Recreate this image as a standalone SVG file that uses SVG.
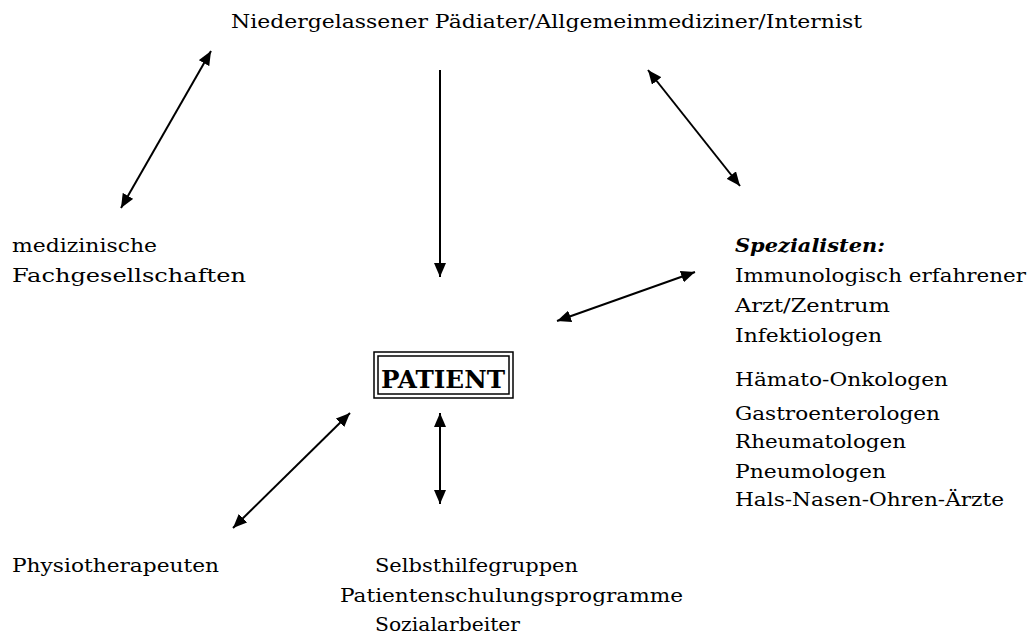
<svg xmlns="http://www.w3.org/2000/svg" width="1033" height="635" viewBox="0 0 1033 635">
<style>
text{font-family:"DejaVu Serif","Liberation Serif",serif;font-size:19px;fill:#000}
.bi{font-weight:bold;font-style:italic}
.p{font-weight:bold;font-size:24px}
.c{stroke:#000;stroke-width:2;fill:none}
</style>
<defs>
<marker id="ah" viewBox="0 0 14 12" refX="14" refY="6" markerWidth="14" markerHeight="12" markerUnits="userSpaceOnUse" orient="auto-start-reverse">
<path d="M0,0 L14,6 L0,12 z" fill="#000"/>
</marker>
</defs>
<rect width="1033" height="635" fill="#fff"/>
<g id="connectors">
<line class="c" x1="121" y1="208" x2="211" y2="51" marker-start="url(#ah)" marker-end="url(#ah)"/>
<line class="c" x1="440" y1="70" x2="440" y2="277" marker-end="url(#ah)"/>
<line class="c" x1="648" y1="70" x2="740" y2="186" marker-start="url(#ah)" marker-end="url(#ah)"/>
<line class="c" x1="557" y1="321" x2="695" y2="272" marker-start="url(#ah)" marker-end="url(#ah)"/>
<line class="c" x1="233" y1="528" x2="350" y2="413" marker-start="url(#ah)" marker-end="url(#ah)"/>
<line class="c" x1="440" y1="413" x2="440" y2="504" marker-start="url(#ah)" marker-end="url(#ah)"/>
</g>
<g id="node-arzt">
<text x="231" y="28" textLength="631" lengthAdjust="spacingAndGlyphs">Niedergelassener Pädiater/Allgemeinmediziner/Internist</text>
</g>
<g id="node-fachgesellschaften">
<text x="12" y="252" textLength="145" lengthAdjust="spacingAndGlyphs">medizinische</text>
<text x="12" y="282" textLength="234" lengthAdjust="spacingAndGlyphs">Fachgesellschaften</text>
</g>
<g id="node-patient">
<rect x="374" y="352" width="139" height="46" fill="none" stroke="#000" stroke-width="1.5"/>
<rect x="378" y="356" width="131" height="38" fill="none" stroke="#000" stroke-width="1.5"/>
<text class="p" x="381" y="388" textLength="124" lengthAdjust="spacingAndGlyphs">PATIENT</text>
</g>
<g id="node-spezialisten">
<text class="bi" x="735" y="252" textLength="150" lengthAdjust="spacingAndGlyphs">Spezialisten:</text>
<text x="735" y="282" textLength="291" lengthAdjust="spacingAndGlyphs">Immunologisch erfahrener</text>
<text x="735" y="312" textLength="155" lengthAdjust="spacingAndGlyphs">Arzt/Zentrum</text>
<text x="735" y="342" textLength="147" lengthAdjust="spacingAndGlyphs">Infektiologen</text>
<text x="735" y="386" textLength="213" lengthAdjust="spacingAndGlyphs">Hämato-Onkologen</text>
<text x="735" y="420" textLength="205" lengthAdjust="spacingAndGlyphs">Gastroenterologen</text>
<text x="735" y="448" textLength="171" lengthAdjust="spacingAndGlyphs">Rheumatologen</text>
<text x="735" y="478" textLength="151" lengthAdjust="spacingAndGlyphs">Pneumologen</text>
<text x="735" y="506" textLength="269" lengthAdjust="spacingAndGlyphs">Hals-Nasen-Ohren-Ärzte</text>
</g>
<g id="node-physio">
<text x="12" y="572" textLength="207" lengthAdjust="spacingAndGlyphs">Physiotherapeuten</text>
</g>
<g id="node-selbsthilfe">
<text x="375" y="572" textLength="203" lengthAdjust="spacingAndGlyphs">Selbsthilfegruppen</text>
<text x="340" y="602" textLength="343" lengthAdjust="spacingAndGlyphs">Patientenschulungsprogramme</text>
<text x="375" y="631" textLength="145" lengthAdjust="spacingAndGlyphs">Sozialarbeiter</text>
</g>
</svg>
